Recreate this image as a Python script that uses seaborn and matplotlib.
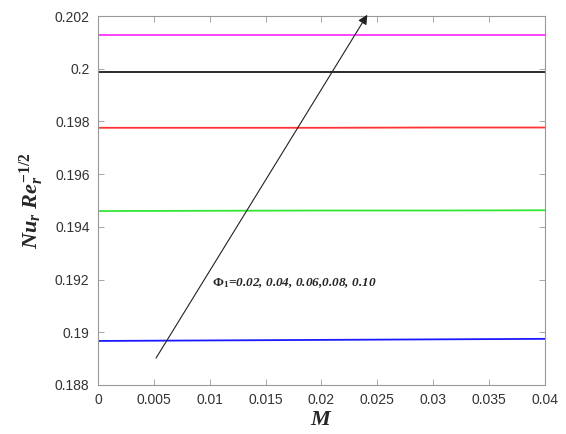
import numpy as np
import pandas as pd
import seaborn as sns
import matplotlib
matplotlib.use("Agg")
import matplotlib.pyplot as plt

# M values and Nu_r Re_r^-1/2 for each phi_1
M = [0, 0.01, 0.02, 0.03, 0.04]
phi_labels = ["0.02", "0.04", "0.06", "0.08", "0.10"]
nu_002 = [0.18967, 0.18969, 0.18971, 0.18973, 0.18975]
nu_004 = [0.19460, 0.19461, 0.19462, 0.19462, 0.19463]
nu_006 = [0.19776, 0.19776, 0.19776, 0.19777, 0.19777]
nu_008 = [0.19987, 0.19987, 0.19987, 0.19987, 0.19987]
nu_010 = [0.20129, 0.20129, 0.20129, 0.20129, 0.20129]
colors = ["#1a1aff", "#33e633", "#ff3333", "#1a1a1a", "#ff33ff"]

df = pd.DataFrame({
    "M": M * 5,
    "Nu": nu_002 + nu_004 + nu_006 + nu_008 + nu_010,
    "phi": [p for p in phi_labels for _ in M],
})

sns.set_theme(style="white")
plt.rcParams["font.family"] = ["Liberation Sans", "DejaVu Sans"]
plt.rcParams["mathtext.fontset"] = "custom"
plt.rcParams["mathtext.it"] = "Liberation Serif:italic:bold"
plt.rcParams["mathtext.rm"] = "Liberation Serif:bold"
plt.rcParams["mathtext.bf"] = "Liberation Serif:italic:bold"

fig, ax = plt.subplots(figsize=(5.66, 4.34), dpi=100)
fig.subplots_adjust(left=0.173, right=0.963, top=0.963, bottom=0.113)

sns.lineplot(data=df, x="M", y="Nu", hue="phi", palette=colors,
             linewidth=1.3, legend=False, ax=ax)

ax.annotate("", xy=(0.0241, 0.20205), xytext=(0.0052, 0.18902),
            arrowprops=dict(arrowstyle="-|>", color="#222222", lw=0.8,
                            mutation_scale=14, shrinkA=0, shrinkB=0),
            annotation_clip=False)
ax.text(0.0102, 0.19187, r"$\Phi_{1}$=0.02, 0.04, 0.06,0.08, 0.10",
        fontsize=9.5, family="Liberation Serif", fontweight="bold",
        fontstyle="italic", va="center")

ax.set_xlim(0, 0.04)
ax.set_ylim(0.188, 0.202)
ax.set_xticks(np.arange(0, 0.0401, 0.005))
ax.set_xticklabels(["0", "0.005", "0.01", "0.015", "0.02", "0.025", "0.03", "0.035", "0.04"])
ax.set_yticks(np.arange(0.188, 0.20201, 0.002))
ax.set_yticklabels(["0.188", "0.19", "0.192", "0.194", "0.196", "0.198", "0.2", "0.202"])
ax.tick_params(direction="in", length=4, width=0.6, labelsize=10, pad=6,
               top=True, right=True, bottom=True, left=True,
               colors="#999999", labelcolor="#333333")
for s in ax.spines.values():
    s.set_color("#999999")
    s.set_linewidth(0.8)

ax.set_xlabel(r"$M$", fontsize=16, labelpad=1)
ax.set_ylabel(r"$Nu_{r}\ Re_{r}^{-1/2}$", fontsize=16, labelpad=6)

plt.savefig("out.png", dpi=100)
